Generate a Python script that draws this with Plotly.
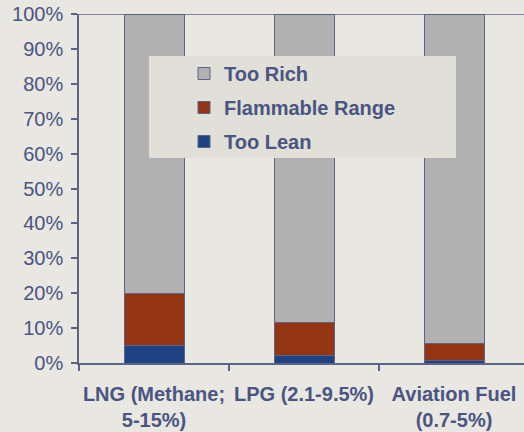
import plotly.graph_objects as go

# Flammability of fuel vapour in air, split into the three concentration bands (% of 0-100% range)
categories = ["LNG (Methane;<br>5-15%)", "LPG (2.1-9.5%)", "Aviation Fuel<br>(0.7-5%)"]
too_lean = [5.0, 2.1, 0.7]
flammable = [15.0, 9.5, 5.0]
too_rich = [80.0, 88.4, 94.3]

series = [
    ("Too Lean", too_lean, "#1f4283", 3),
    ("Flammable Range", flammable, "#933513", 2),
    ("Too Rich", too_rich, "#b1b1b1", 1),
]

TEXT = "#4a5582"
AXIS = "#5c6385"
BG = "#e8e7e1"
FONT = "Arial, Liberation Sans, sans-serif"

fig = go.Figure()
for name, vals, color, rank in series:
    fig.add_trace(go.Bar(
        x=categories, y=vals, name=name, legendgroup=name, legendrank=rank,
        marker=dict(color=color, line=dict(color=AXIS, width=1)),
        width=0.4,
    ))

W, H = 524, 432
ml, mt, mb = 79, 14, 69
pw = W - ml
ph = H - mt - mb

fig.update_layout(
    width=W, height=H,
    barmode="stack",
    paper_bgcolor=BG, plot_bgcolor=BG,
    margin=dict(l=ml, r=0, t=mt, b=mb, pad=0, autoexpand=False),
    font=dict(family=FONT, size=20, color=TEXT),
    showlegend=True,
    legend=dict(
        traceorder="grouped", tracegroupgap=5,
        bgcolor="rgba(0,0,0,0)",
        font=dict(family=FONT, size=20, color=TEXT, weight="bold"),
        x=(184 - ml) / pw, xanchor="left",
        y=1 - (54 - mt) / ph, yanchor="top",
        itemclick=False,
    ),
    xaxis=dict(
        range=[-0.5, -0.5 + pw / 150.0],
        showline=True, linecolor=AXIS, linewidth=1.5,
        ticks="outside", tickson="boundaries", ticklen=6, tickcolor=AXIS, tickwidth=1.5,
        tickfont=dict(family=FONT, size=20, color=TEXT, weight="bold"),
        tickangle=0, automargin=False,
        ticklabelstandoff=12,
        showgrid=False, zeroline=False, fixedrange=True,
    ),
    yaxis=dict(
        range=[0, 100], dtick=10, ticksuffix="%",
        showline=True, linecolor=AXIS, linewidth=1.5,
        ticks="outside", ticklen=6, tickcolor=AXIS, tickwidth=1.5,
        tickfont=dict(family=FONT, size=20, color=TEXT),
        automargin=False,
        ticklabelstandoff=4,
        showgrid=False, zeroline=False, fixedrange=True,
    ),
    shapes=[
        # top border of the plotting area
        dict(type="line", xref="paper", yref="y", x0=0, x1=1, y0=100, y1=100,
             line=dict(color=AXIS, width=1.5)),
        # legend panel
        dict(type="rect", xref="paper", yref="paper", layer="above",
             x0=(149 - ml) / pw, x1=(456 - ml) / pw,
             y0=1 - (158 - mt) / ph, y1=1 - (56 - mt) / ph,
             fillcolor="#e0e0d9", line=dict(width=0)),
    ],
)

fig.write_html("out.html", config=dict(displayModeBar=False))
